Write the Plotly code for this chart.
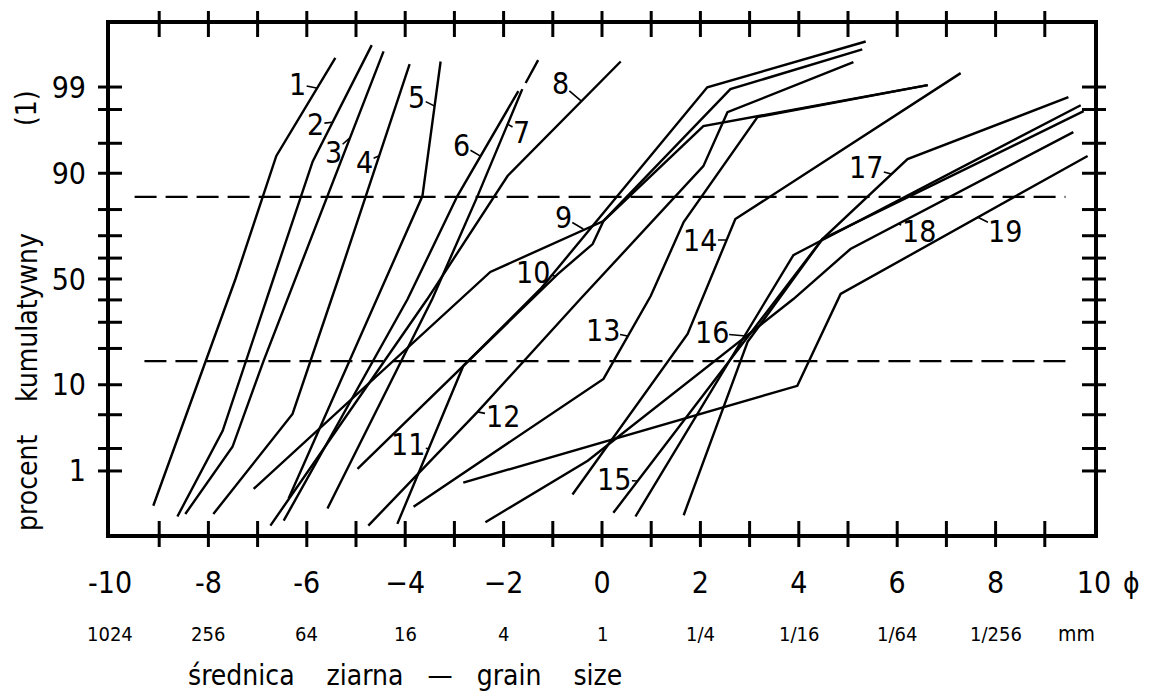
import plotly.graph_objects as go
from statistics import NormalDist

_nd = NormalDist()


def pz(p):
    """cumulative percent -> probability-paper (normal score) coordinate"""
    return _nd.inv_cdf(p / 100.0)


# ---------------- data: grain size (phi) vs cumulative percent ----------------
c1_phi = [-5.42, -6.62, -7.45, -9.12]
c1_pct = [99.63, 93.2, 50.0, 0.30]
c2_phi = [-4.68, -5.88, -6.68, -7.71, -8.63]
c2_pct = [99.77, 92.3, 50.0, 3.29, 0.20]
c3_phi = [-4.44, -6.23, -6.88, -7.51, -8.47]
c3_pct = [99.71, 50.0, 16.0, 2.1, 0.22]
c4_phi = [-3.91, -5.36, -6.29, -7.90]
c4_pct = [99.54, 50.0, 5.1, 0.22]
c5_phi = [-3.28, -3.65, -6.37]
c5_pct = [99.58, 84.25, 0.39]
c6_phi = [-1.70, -2.94, -3.95, -6.47]
c6_pct = [98.86, 84.25, 40.4, 0.17]
c7_phi = [-1.62, -2.53, -3.45, -5.58]
c7_pct = [98.93, 84.25, 40.4, 0.27]
c7_top_phi = [-1.62, -1.29]
c7_top_pct = [98.93, 99.61]
c8_phi = [0.38, -1.92, -3.55, -6.74]
c8_pct = [99.58, 89.4, 40.4, 0.14]
c9_phi = [-7.08, -2.27, 0.03, 2.06, 6.62]
c9_pct = [0.55, 53.4, 75.9, 96.8, 99.06]
c10_phi = [-4.97, -2.73, -0.90, -0.19, 0.03, 2.61, 5.29]
c10_pct = [1.07, 16.0, 52.4, 66.4, 75.9, 98.93, 99.73]
c11_phi = [-4.16, -2.82, -1.25, 2.14, 5.36]
c11_pct = [0.15, 14.6, 45.2, 98.99, 99.80]
c12_phi = [-4.75, -2.53, -0.44, 2.06, 2.55, 5.11]
c12_pct = [0.14, 5.37, 40.4, 91.43, 97.84, 99.57]
c13_phi = [-3.83, 0.03, 0.99, 1.66, 3.16, 6.62]
c13_pct = [0.29, 11.3, 41.8, 75.5, 97.51, 99.06]
c14_phi = [-0.60, 1.74, 2.71, 7.29]
c14_pct = [0.45, 25.3, 76.6, 99.37]
c15_phi = [0.23, 4.48, 9.79]
c15_pct = [0.23, 68.6, 97.90]
c16_phi = [0.68, 3.36, 3.89, 9.73]
c16_pct = [0.20, 40.4, 61.4, 98.24]
c17_phi = [1.66, 2.96, 4.48, 6.21, 9.48]
c17_pct = [0.21, 22.3, 68.6, 92.69, 98.62]
c18_phi = [-2.37, -0.29, 3.89, 5.05, 9.58]
c18_pct = [0.16, 1.38, 40.4, 64.2, 96.25]
c19_phi = [-2.82, 3.97, 4.85, 9.87]
c19_pct = [0.68, 9.77, 42.8, 93.2]

curve_names = [str(i) for i in range(1, 20)]
curves = [
    (c1_phi, c1_pct), (c2_phi, c2_pct), (c3_phi, c3_pct), (c4_phi, c4_pct),
    (c5_phi, c5_pct), (c6_phi, c6_pct), (c7_phi, c7_pct), (c8_phi, c8_pct),
    (c9_phi, c9_pct), (c10_phi, c10_pct), (c11_phi, c11_pct), (c12_phi, c12_pct),
    (c13_phi, c13_pct), (c14_phi, c14_pct), (c15_phi, c15_pct), (c16_phi, c16_pct),
    (c17_phi, c17_pct), (c18_phi, c18_pct), (c19_phi, c19_pct),
]

# reference (16 % and 84 %) dashed lines
ref_pct = [16, 84]
ref_phi_start = [-9.3, -9.5]
ref_phi_end = [9.42, 9.42]

# axes
prob_tick_marks = [1, 2, 5, 10, 20, 30, 40, 50, 60, 70, 80, 90, 95, 98, 99]
prob_label_vals = [1, 10, 50, 90, 99]
phi_tick_marks = list(range(-9, 10))
phi_label_vals = [-10, -8, -6, -4, -2, 0, 2, 4, 6, 8, 10]
phi_label_text = ["-10", "-8", "-6", "\u22124", "\u22122", "0", "2", "4", "6", "8", "10"]
mm_phi = [-10, -8, -6, -4, -2, 0, 2, 4, 6, 8]
mm_text = ["1024", "256", "64", "16", "4", "1", "1/4", "1/16", "1/64", "1/256"]

# curve number labels: point on curve, text offset (px)
label_tip_phi = [-5.78, -5.48, -5.13, -4.54, -3.40, -2.47, -1.92, -0.42, -0.38, -0.95,
                 -3.53, -2.53, 0.52, 2.53, 0.72, 2.92, 5.88, 6.03, 7.63]
label_tip_pct = [98.96, 97.13, 95.61, 93.18, 98.19, 93.18, 96.97, 98.44, 72.75, 51.45,
                 1.98, 5.37, 24.5, 68.15, 0.72, 24.5, 89.82, 74.73, 77.36]
label_dx = [-20, -17, -16, -14, -18, -19, 14, -21, -20, -22,
            -20, 25, -25, -26, -23, -34, -25, 20, 28]
label_dy = [-4, 2, 14, 6, -9, -11, 8, -18, -12, -4,
            -4, 5, -5, 0, -1, -3, -7, 7, 14]

# ---------------- figure ----------------
FONT = "DejaVu Sans Condensed, DejaVu Sans, sans-serif"
INK = "black"
W, H = 1151, 696
ML, MR, MT, MB = 110, 57, 24, 162
PW, PH = W - ML - MR, H - MT - MB


def px_x(px):
    return (px - ML) / PW


def px_y(py):
    return (H - MB - py) / PH


fig = go.Figure()

for phi, pct in curves:
    fig.add_trace(go.Scatter(
        x=phi, y=[pz(p) for p in pct], mode="lines",
        line=dict(color=INK, width=2.4), hoverinfo="skip", showlegend=False))

fig.add_trace(go.Scatter(
    x=c7_top_phi, y=[pz(p) for p in c7_top_pct], mode="lines",
    line=dict(color=INK, width=2.4, dash="0px,7px,26px,200px"),
    hoverinfo="skip", showlegend=False))

for p, a, b in zip(ref_pct, ref_phi_start, ref_phi_end):
    fig.add_trace(go.Scatter(
        x=[a, b], y=[pz(p), pz(p)], mode="lines",
        line=dict(color=INK, width=2.2, dash="22px,9px"),
        hoverinfo="skip", showlegend=False))

# tick marks crossing the frame
for v in phi_tick_marks:
    for anc in (0, 1):
        fig.add_shape(type="line", xref="x", yref="paper", x0=v, x1=v,
                      ysizemode="pixel", yanchor=anc, y0=-13, y1=13,
                      line=dict(color=INK, width=3))
for p in prob_tick_marks:
    for anc in (0, 1):
        fig.add_shape(type="line", yref="y", xref="paper", y0=pz(p), y1=pz(p),
                      xsizemode="pixel", xanchor=anc, x0=-12, x1=12,
                      line=dict(color=INK, width=3))

annotations = []
for name, tp, tq, dx, dy in zip(curve_names, label_tip_phi, label_tip_pct, label_dx, label_dy):
    annotations.append(dict(
        x=tp, y=pz(tq), xref="x", yref="y", text=name, showarrow=True,
        ax=dx, ay=dy, arrowhead=0, arrowwidth=1.6, arrowcolor=INK,
        standoff=0, startstandoff=0, borderpad=0,
        font=dict(family=FONT, size=30, color=INK)))

for v, t in zip(mm_phi, mm_text):
    annotations.append(dict(
        x=v, y=px_y(634), xref="x", yref="paper", text=t, showarrow=False,
        xanchor="center", yanchor="middle", font=dict(family=FONT, size=20, color=INK)))
annotations.append(dict(
    x=px_x(1076), y=px_y(634), xref="paper", yref="paper", text="mm", showarrow=False,
    xanchor="center", yanchor="middle", font=dict(family=FONT, size=21, color=INK)))
annotations.append(dict(
    x=px_x(1131), y=px_y(583), xref="paper", yref="paper", text="\u03d5", showarrow=False,
    xanchor="center", yanchor="middle", font=dict(family=FONT, size=28, color=INK)))

NB = "\u00a0"
annotations.append(dict(
    x=px_x(186), y=px_y(675), xref="paper", yref="paper",
    text=f"średnica{NB*4}ziarna{NB*3}—{NB*3}grain{NB*4}size", showarrow=False,
    xanchor="left", yanchor="middle", font=dict(family=FONT, size=28, color=INK)))

for word, cy in (("procent", 483), ("kumulatywny", 318), ("(1)", 108)):
    annotations.append(dict(
        x=px_x(27), y=px_y(cy), xref="paper", yref="paper", text=word,
        showarrow=False, textangle=-90, xanchor="center", yanchor="middle",
        font=dict(family=FONT, size=28, color=INK)))

fig.update_layout(
    width=W, height=H, margin=dict(l=ML, r=MR, t=MT, b=MB),
    paper_bgcolor="white", plot_bgcolor="white", showlegend=False,
    annotations=annotations,
)
fig.update_xaxes(
    range=[-10, 10], tickmode="array", tickvals=phi_label_vals, ticktext=phi_label_text,
    ticks="", showgrid=False, zeroline=False, showline=True, linewidth=4,
    linecolor=INK, mirror=True, ticklabelstandoff=19,
    tickfont=dict(family=FONT, size=30, color=INK))
fig.update_yaxes(
    range=[pz(0.1), pz(99.9)], tickmode="array",
    tickvals=[pz(p) for p in prob_label_vals], ticktext=[str(p) for p in prob_label_vals],
    ticks="", showgrid=False, zeroline=False, showline=True, linewidth=4,
    linecolor=INK, mirror=True, ticklabelstandoff=14,
    tickfont=dict(family=FONT, size=30, color=INK))

fig.write_html("out.html")
